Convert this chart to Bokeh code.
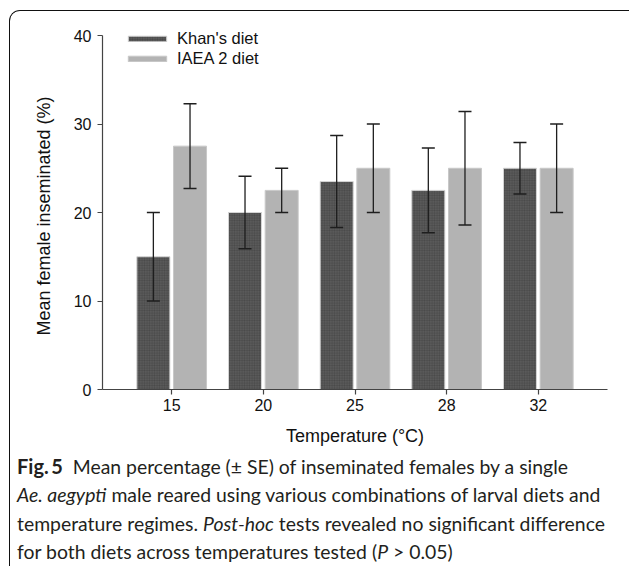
import numpy as np
from bokeh.plotting import figure
from bokeh.layouts import column
from bokeh.models import (ColumnDataSource, Whisker, TeeHead, FixedTicker,
                          Legend, LegendItem, Range1d, Title, Div)
from bokeh.embed import file_html
from bokeh.resources import INLINE

# ---------------- data ----------------
temperatures = ["15", "20", "25", "28", "32"]
khan_mean = [15.0, 20.0, 23.5, 22.5, 25.0]
khan_se = [5.0, 4.1, 5.2, 4.8, 2.9]
iaea_mean = [27.5, 22.5, 25.0, 25.0, 25.0]
iaea_se = [4.8, 2.5, 5.0, 6.4, 5.0]
y_ticks = [0, 10, 20, 30, 40]
series_names = ["Khan's diet", "IAEA 2 diet"]
x_title = "Temperature (°C)"
y_title = "Mean female inseminated (%)"
caption_html = (
    '<b style="font-size:20px">Fig.\u2009<span>5</span></b>&nbsp;&nbsp;Mean percentage (\u00b1 SE) of inseminated females by a single<br>'
    '<i>Ae. aegypti</i> male reared using various combinations of larval diets and<br>'
    'temperature regimes. <i>Post-hoc</i> tests revealed no significant difference<br>'
    'for both diets across temperatures tested (<i>P</i> &gt; 0.05)'
)

# ---------------- layout geometry (px) ----------------
OX, OY = 10, 11            # where the chart canvas starts on the page
W1, H1 = 619, 441          # chart canvas
FRAME_L, FRAME_R = 102, 607
FRAME_T, FRAME_B = 30, 389
Y40 = 35                   # page y of the 40 tick
ppy = (FRAME_B - Y40) / 40.0
y_end = 40 + (Y40 - FRAME_T) / ppy
CAP_TOP = OY + H1
H2 = 567 - CAP_TOP - 1

idx = np.arange(1, len(temperatures) + 1)
off, bw = 0.2, 0.36
src = ColumnDataSource(dict(
    xk=idx - off, xi=idx + off,
    k=khan_mean, i=iaea_mean,
    k_lo=np.array(khan_mean) - np.array(khan_se),
    k_hi=np.array(khan_mean) + np.array(khan_se),
    i_lo=np.array(iaea_mean) - np.array(iaea_se),
    i_hi=np.array(iaea_mean) + np.array(iaea_se),
))

p = figure(width=W1, height=H1, output_backend="svg", toolbar_location=None,
           x_range=Range1d(0.245, 5.755), y_range=Range1d(0, y_end),
           min_border_left=FRAME_L - OX, min_border_right=W1 - (FRAME_R - OX),
           min_border_top=FRAME_T - OY, min_border_bottom=H1 - (FRAME_B - OY))
p.outline_line_color = None
p.xgrid.visible = False
p.ygrid.visible = False
p.background_fill_color = "white"
p.border_fill_color = "white"

rk = p.vbar(x="xk", top="k", width=bw, source=src, fill_color="#5a5a5a",
            line_color="#d4d4d4", line_width=1,
            hatch_pattern="+", hatch_color="#3a3a3a", hatch_scale=2.5,
            hatch_weight=0.6, hatch_alpha=0.6)
ri = p.vbar(x="xi", top="i", width=bw, source=src, fill_color="#b3b3b3",
            line_color="#c8c8c8", line_width=1)

for lo, hi, base in (("k_lo", "k_hi", "xk"), ("i_lo", "i_hi", "xi")):
    w = Whisker(source=src, base=base, lower=lo, upper=hi,
                line_color="#1e1e1e", line_width=1.3, level="overlay",
                upper_head=TeeHead(size=13, line_color="#1e1e1e", line_width=1.5),
                lower_head=TeeHead(size=13, line_color="#1e1e1e", line_width=1.5))
    p.add_layout(w)

ax_font = "Liberation Sans"
for ax in (p.xaxis[0], p.yaxis[0]):
    ax.axis_line_color = "#444444"
    ax.axis_line_width = 1.2
    ax.major_tick_line_color = "#444444"
    ax.major_tick_line_width = 1.2
    ax.major_tick_out = 5
    ax.major_tick_in = 0
    ax.minor_tick_line_color = None
    ax.major_label_text_font = ax_font
    ax.major_label_text_font_size = "16px"
    ax.major_label_text_color = "#111111"
    ax.axis_label_text_font = ax_font
    ax.axis_label_text_font_size = "18px"
    ax.axis_label_text_font_style = "normal"
    ax.axis_label_text_color = "#111111"

p.xaxis.ticker = FixedTicker(ticks=list(idx))
p.xaxis.major_label_overrides = {int(i): t for i, t in zip(idx, temperatures)}
p.xaxis.major_label_standoff = 4
p.xaxis.axis_label = x_title
p.xaxis.axis_label_standoff = 12

p.yaxis.ticker = FixedTicker(ticks=y_ticks)
p.yaxis.bounds = (0, 40)
p.yaxis.major_label_standoff = 6

# y title as a left-side Title so it can be placed along the 0..40 span
p.add_layout(Title(text=y_title, align="left", offset=54, standoff=34,
                   text_font=ax_font, text_font_size="18px",
                   text_font_style="normal", text_color="#111111"), "left")

legend = Legend(items=[LegendItem(label=series_names[0], renderers=[rk]),
                       LegendItem(label=series_names[1], renderers=[ri])],
                location=(21, 321), orientation="vertical",
                glyph_width=48, glyph_height=7, label_height=16,
                label_standoff=6, spacing=1, padding=0, margin=0,
                border_line_color=None, background_fill_alpha=0,
                label_text_font=ax_font, label_text_font_size="16.5px",
                label_text_color="#111111")
p.add_layout(legend)

# ---------------- caption ----------------
cap = Div(text=caption_html, width=W1 - 7, height=H2, margin=(0, 0, 0, 7),
          styles={"font-family": "Lato", "font-size": "19.4px",
                  "line-height": "28.3px", "color": "#231f20",
                  "white-space": "nowrap"})

layout = column(p, cap, spacing=0, margin=(10, 0, 0, 9),
                styles={"border-left": "1px solid #111111",
                        "border-top": "1px solid #111111",
                        "border-top-left-radius": "11px",
                        "overflow": "hidden"})

open("out.html", "w").write(file_html(layout, INLINE))
